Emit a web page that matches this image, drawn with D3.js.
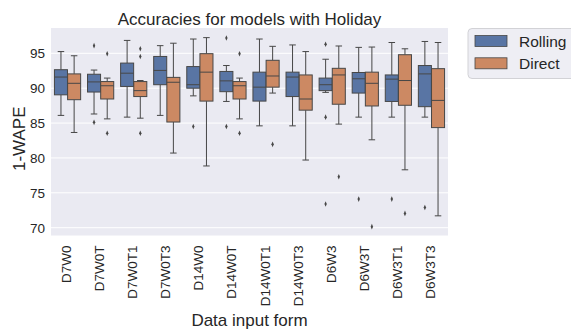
<!DOCTYPE html>
<html>
<head>
<meta charset="utf-8">
<script src="https://cdn.jsdelivr.net/npm/d3@7"></script>
<style>
  body { margin: 0; background: #fff; }
  svg { display: block; font-family: "Liberation Sans", Arial, sans-serif; }
</style>
</head>
<body>
<div id="chart"></div>
<script>
const categories = ['D7W0', 'D7W0T', 'D7W0T1', 'D7W0T3', 'D14W0', 'D14W0T', 'D14W0T1', 'D14W0T3', 'D6W3', 'D6W3T', 'D6W3T1', 'D6W3T3'];
const series = ['Rolling', 'Direct'];
const colors = ['#5975a4', '#cc8963'];
const yTicks = [70, 75, 80, 85, 90, 95];

// [whisker low, q1, median, q3, whisker high]
const rollingBox = [
  [86.1, 89.05, 91.6, 92.65, 95.25],
  [86.3, 89.45, 90.9, 92.0, 92.6],
  [85.85, 90.25, 92.15, 93.6, 96.85],
  [86.1, 90.5, 92.55, 94.55, 96.1],
  [88.9, 90.0, 90.5, 93.1, 97.05],
  [88.1, 89.5, 91.05, 92.4, 93.25],
  [84.6, 88.15, 90.15, 92.3, 97.05],
  [84.6, 88.8, 91.6, 92.3, 96.2],
  [89.4, 89.65, 90.5, 91.45, 94.15],
  [85.85, 89.3, 91.35, 92.25, 95.85],
  [85.85, 88.1, 91.3, 91.9, 96.55],
  [85.85, 87.35, 92.05, 93.25, 96.7]
];
const directBox = [
  [83.65, 88.35, 90.7, 92.05, 94.65],
  [85.6, 88.45, 90.35, 90.95, 91.45],
  [85.7, 88.8, 89.65, 90.95, 91.1],
  [80.7, 85.15, 90.85, 91.55, 96.45],
  [78.85, 88.15, 92.3, 94.95, 97.25],
  [85.6, 88.45, 90.35, 90.95, 91.45],
  [89.3, 90.15, 91.75, 94.0, 96.0],
  [79.7, 86.85, 88.45, 91.9, 95.25],
  [84.85, 87.7, 91.9, 92.85, 96.05],
  [82.6, 87.45, 90.7, 92.3, 95.9],
  [78.3, 87.55, 91.1, 94.8, 95.65],
  [71.7, 84.35, 88.25, 92.8, 96.55]
];
const rollingOut = [[], [96.1, 85.1], [], [], [84.5], [97.2, 84.5], [], [], [96.3, 85.85, 73.4], [74.1], [74.1], [72.9]];
const directOut = [[], [94.95, 83.55], [95.65, 94.55, 83.55], [], [], [94.95, 83.55], [81.95], [], [77.3], [70.15], [72.05], []];

const W = 571, H = 329;
const m = { t: 28, r: 123, b: 93.5, l: 51 };
const innerW = W - m.l - m.r;
const innerH = H - m.t - m.b;
const textColor = '#262626';
const lineColor = '#474747';

const svg = d3.select('#chart').append('svg').attr('width', W).attr('height', H);
const g = svg.append('g').attr('transform', `translate(${m.l},${m.t})`);

g.append('rect').attr('width', innerW).attr('height', innerH).attr('fill', '#eaeaf2');

const x = d3.scaleBand().domain(categories).range([0, innerW]).padding(0);
const hue = d3.scaleBand().domain(series).range([x.bandwidth() * 0.1, x.bandwidth() * 0.9]).padding(0.01);
const y = d3.scaleLinear().domain([68.88, 98.63]).range([innerH, 0]);

// grid
g.append('g').selectAll('line').data(yTicks).enter().append('line')
  .attr('x1', 0).attr('x2', innerW)
  .attr('y1', d => y(d)).attr('y2', d => y(d))
  .attr('stroke', '#fff').attr('stroke-width', 1);

// y axis
const yAxis = g.append('g').call(d3.axisLeft(y).tickValues(yTicks).tickSize(0).tickPadding(6));
yAxis.select('.domain').remove();
yAxis.selectAll('text').attr('font-size', 13.5).attr('fill', textColor).style('font-family', 'inherit');

// x axis
const xAxis = g.append('g').attr('transform', `translate(0,${innerH})`)
  .call(d3.axisBottom(x).tickSize(0));
xAxis.select('.domain').remove();
xAxis.selectAll('text')
  .attr('font-size', 13.5).attr('fill', textColor).style('font-family', 'inherit')
  .attr('text-anchor', 'end')
  .attr('dy', null).attr('y', 0)
  .attr('transform', 'translate(3.5,10) rotate(-90)');

const boxes = [rollingBox, directBox];
const outs = [rollingOut, directOut];

series.forEach((s, si) => {
  const layer = g.append('g');
  const bw = hue.bandwidth();
  const sel = layer.selectAll('g.box').data(categories).enter().append('g')
    .attr('class', 'box')
    .attr('transform', d => `translate(${x(d) + hue(s)},0)`);

  const stat = (i, k) => boxes[si][i][k];
  // whiskers
  sel.append('line').attr('x1', bw / 2).attr('x2', bw / 2)
    .attr('y1', (d, i) => y(stat(i, 0))).attr('y2', (d, i) => y(stat(i, 1)))
    .attr('stroke', lineColor).attr('stroke-width', 1);
  sel.append('line').attr('x1', bw / 2).attr('x2', bw / 2)
    .attr('y1', (d, i) => y(stat(i, 3))).attr('y2', (d, i) => y(stat(i, 4)))
    .attr('stroke', lineColor).attr('stroke-width', 1);
  // caps
  [0, 4].forEach(k => {
    sel.append('line').attr('x1', bw * 0.25).attr('x2', bw * 0.75)
      .attr('y1', (d, i) => y(stat(i, k))).attr('y2', (d, i) => y(stat(i, k)))
      .attr('stroke', lineColor).attr('stroke-width', 1);
  });
  // box
  sel.append('rect').attr('x', 0).attr('width', bw)
    .attr('y', (d, i) => y(stat(i, 3)))
    .attr('height', (d, i) => y(stat(i, 1)) - y(stat(i, 3)))
    .attr('fill', colors[si]).attr('stroke', lineColor).attr('stroke-width', 1);
  // median
  sel.append('line').attr('x1', 0).attr('x2', bw)
    .attr('y1', (d, i) => y(stat(i, 2))).attr('y2', (d, i) => y(stat(i, 2)))
    .attr('stroke', lineColor).attr('stroke-width', 1);
  // outliers
  const diamond = d3.symbol().type(d3.symbolDiamond).size(9);
  sel.each(function (d, i) {
    d3.select(this).selectAll('path').data(outs[si][i]).enter().append('path')
      .attr('d', diamond)
      .attr('transform', v => `translate(${bw / 2},${y(v)}) scale(0.75,1)`)
      .attr('fill', lineColor);
  });
});

// title and labels
svg.append('text').attr('x', m.l + innerW / 2).attr('y', 25)
  .attr('text-anchor', 'middle').attr('font-size', 17).attr('fill', textColor)
  .text('Accuracies for models with Holiday');
svg.append('text').attr('x', m.l + innerW / 2).attr('y', 326)
  .attr('text-anchor', 'middle').attr('font-size', 17).attr('fill', textColor)
  .text('Data input form');
svg.append('text').attr('transform', `translate(25,${m.t + innerH / 2 + 7}) rotate(-90)`)
  .attr('text-anchor', 'middle').attr('font-size', 17).attr('fill', textColor)
  .text('1-WAPE');

// legend
const lg = svg.append('g').attr('transform', 'translate(468,28.5)');
lg.append('rect').attr('width', 110).attr('height', 50).attr('rx', 4)
  .attr('fill', '#eeeef4').attr('stroke', '#d2d2d6').attr('stroke-width', 1);
series.forEach((s, si) => {
  lg.append('rect').attr('x', 7).attr('y', 7 + si * 22.3).attr('width', 32).attr('height', 11)
    .attr('fill', colors[si]).attr('stroke', lineColor).attr('stroke-width', 0.8);
  lg.append('text').attr('x', 51).attr('y', 18 + si * 22.3)
    .attr('font-size', 15.5).attr('fill', textColor).text(s);
});
</script>
</body>
</html>
